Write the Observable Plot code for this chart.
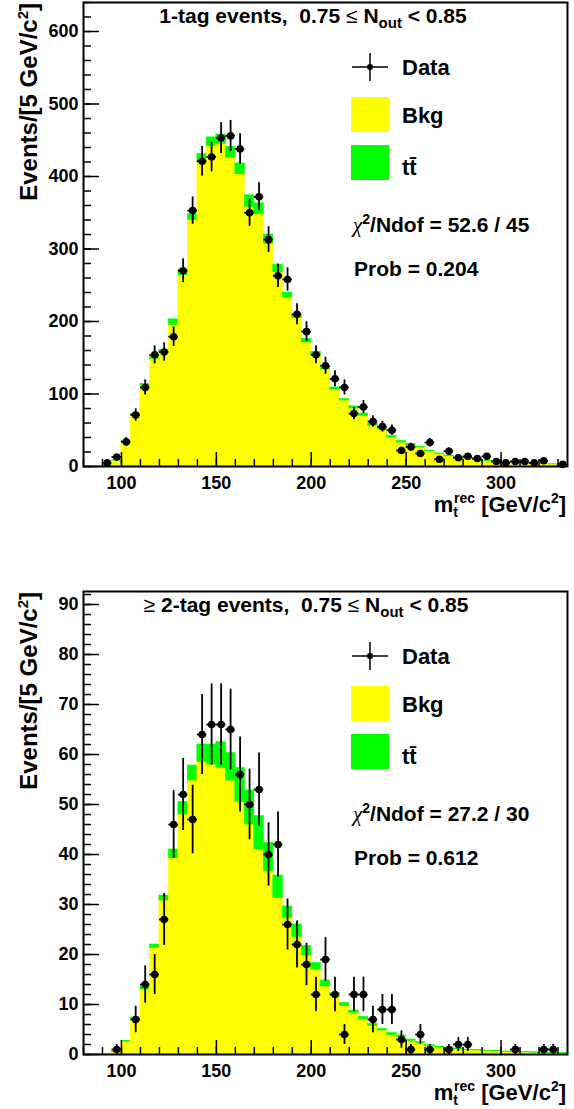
<!DOCTYPE html>
<html><head><meta charset="utf-8">
<script src="https://cdn.jsdelivr.net/npm/d3@7"></script>
<script src="https://cdn.jsdelivr.net/npm/@observablehq/plot@0.6"></script>
<style>
html,body{margin:0;padding:0;background:#fff;}
#wrap{position:relative;width:574px;height:1109px;overflow:hidden;}
#wrap svg{position:absolute;left:0;}
</style></head><body><div id="wrap"></div>
<script>
// ---- bins (lower edges, GeV/c^2) ----
const binLow = [80,85,90,95,100,105,110,115,120,125,130,135,140,145,150,155,160,165,170,175,180,185,190,195,200,205,210,215,220,225,230,235,240,245,250,255,260,265,270,275,280,285,290,295,300,305,310,315,320,325,330];
const binWidth = 5;

// ---- 1-tag panel ----
const tag1Bkg = [0,0.5,2,8,34,71,111,148,157,195,264,340,420,442,445,426,403,358,348,307,268,233,205,171,154,134,106,91,80,70,56,51,40,33,29,26,21,17,14,12,11,8.5,7.5,6.5,5.5,4.7,4.2,3.7,3.2,2.8,2.3];
const tag1Tt  = [0,0,0.3,0.5,1,2,3,3,4,8,8,8,11,12,13,15,15,16,15,13,10,7,4,5,4,4,3,2,3,3,3,2,2,2,2,1,1,1,1,1,1,0.5,0.5,0.5,0.5,0.4,0.4,0.3,0.3,0.3,0.2];
const tag1Data = [0,0,5,13,34,71,109,154,158,179,270,353,421,427,453,456,438,350,372,313,263,258,210,186,154,139,121,109,73,82,62,55,50,22,27,18,33,10,21,12,14,11,14,7,5,7,7,5,8,0,3];

// ---- >=2-tag panel ----
const tag2Bkg = [0.1,0.1,0.2,0.5,2.6,7,13,21.3,30.8,39.3,48,54.8,58.5,58,57.3,54.8,50.5,46,41,36.6,31.3,27.3,23.5,19.8,17,13.6,11.8,9.7,8.3,7,5.7,4.8,3.9,3.5,2.7,2.3,1.7,1.4,1.2,1.0,0.9,0.8,0.7,0.6,0.5,0.45,0.4,0.35,0.3,0.25,0.2];
const tag2Tt  = [0,0,0,0.05,0.1,0.4,0.5,0.7,1,1.7,2.5,3,3.5,4,5.2,5.5,6.8,6.8,6.7,5.7,4.5,2.3,2.5,1.9,1.3,1.2,0.5,0.6,0.5,0.5,0.4,0.3,0.4,0.3,0.3,0.2,0.2,0.2,0.2,0.2,0.1,0.1,0.1,0.1,0.1,0.1,0.1,0.1,0.1,0.1,0.1];
const tag2Data = [0,0,0,1,0,7,14,16,27,46,52,47,64,66,66,65,56,50,53,40,42,26,22,18,12,19,12,4,12,12,7,9,9,3,1,4,1,0,1,2,2,0,0,0,0,1,0,0,1,1,0];

// ---- axes ----
const xDomain = [80, 335];
const xMajor = [100,150,200,250,300];
const xMinor = d3.range(80, 331, 10);
const y1Major = [0,100,200,300,400,500,600];
const y1Minor = d3.range(0, 641, 20);
const y2Major = [0,10,20,30,40,50,60,70,80,90];
const y2Minor = d3.range(0, 93, 2);

const FONT = '"Liberation Sans", Arial, Helvetica, sans-serif';
const YELLOW = "#ffff00", GREEN = "#00ff00";

function panel(cfg) {
  const {bkg, tt, data, yMax, yMajor, yMinor, height, mt, mb, top, titleParts, titleX, chi2, prob} = cfg;
  const hist = [];
  binLow.forEach((lo, i) => {
    hist.push({lo, hi: lo + binWidth, y1: 0, y2: bkg[i], comp: "Bkg"});
    hist.push({lo, hi: lo + binWidth, y1: bkg[i], y2: bkg[i] + tt[i], comp: "tt"});
  });
  const pts = binLow.map((lo, i) => ({x: lo + binWidth / 2, lo, hi: lo + binWidth, n: data[i]})).filter(d => d.n > 0);
  const noText = () => "";
  const svg = Plot.plot({
    width: 574, height, marginLeft: 83, marginRight: 7, marginTop: mt, marginBottom: mb,
    style: {fontFamily: FONT, fontWeight: "bold", fontSize: "18px", background: "white", overflow: "visible"},
    x: {domain: xDomain},
    y: {domain: [0, yMax]},
    color: {domain: ["Bkg", "tt"], range: [YELLOW, GREEN]},
    marks: [
      Plot.rect(hist, {x1: "lo", x2: "hi", y1: "y1", y2: "y2", fill: "comp", stroke: "comp", strokeWidth: 0.6}),
      Plot.axisY({ticks: yMajor, tickSize: 0, tickPadding: 5, label: null, fontSize: 18}),
      Plot.axisY({ticks: yMajor, tickSize: -16, tickFormat: noText, label: null, strokeWidth: 1.5}),
      Plot.axisY({ticks: yMinor, tickSize: -8, tickFormat: noText, label: null, strokeWidth: 1.5}),
      Plot.axisX({ticks: xMajor, tickSize: 0, tickPadding: 10, label: null, fontSize: 18}),
      Plot.axisX({ticks: xMajor, tickSize: -14, tickFormat: noText, label: null, strokeWidth: 1.5}),
      Plot.axisX({ticks: xMinor, tickSize: -7, tickFormat: noText, label: null, strokeWidth: 1.5}),
      Plot.ruleX(pts, {x: "x", y1: d => d.n - Math.sqrt(d.n), y2: d => d.n + Math.sqrt(d.n), stroke: "black", strokeWidth: 1.8}),
      Plot.ruleY(pts, {y: "n", x1: "lo", x2: "hi", stroke: "black", strokeWidth: 1.8}),
      Plot.dot(pts, {x: "x", y: "n", r: 3.8, fill: "black", stroke: "none"}),
      Plot.frame({stroke: "black", strokeWidth: 2})
    ]
  });
  svg.style.top = top + "px";
  const ft = mt;
  const fb = height - mb;
  const s = d3.select(svg);
  const g = s.append("g").attr("font-family", FONT).attr("font-weight", "bold").attr("fill", "black")
    .attr("text-anchor", "start").style("white-space", "pre");

  // title
  const t = g.append("text").attr("x", titleX).attr("y", ft + 21).attr("text-anchor", "middle").attr("font-size", 21);
  titleParts.forEach(p => {
    const ts = t.append("tspan").text(p.t);
    if (p.normal) ts.attr("font-weight", "normal");
    if (p.sub) ts.attr("font-size", 15).attr("dy", 5);
    if (p.after) ts.attr("dy", -5);
  });

  // legend
  const lg = g.append("g");
  lg.append("line").attr("x1", 352).attr("x2", 388).attr("y1", ft + 65).attr("y2", ft + 65).attr("stroke", "black").attr("stroke-width", 1.5);
  lg.append("line").attr("x1", 370).attr("x2", 370).attr("y1", ft + 51).attr("y2", ft + 79).attr("stroke", "black").attr("stroke-width", 1.5);
  lg.append("circle").attr("cx", 370).attr("cy", ft + 65).attr("r", 3);
  lg.append("text").attr("x", 402).attr("y", ft + 73).attr("font-size", 22).text("Data");
  lg.append("rect").attr("x", 351).attr("y", ft + 95).attr("width", 38).attr("height", 35).attr("fill", YELLOW);
  lg.append("text").attr("x", 402).attr("y", ft + 121).attr("font-size", 22).text("Bkg");
  lg.append("rect").attr("x", 351).attr("y", ft + 143).attr("width", 38).attr("height", 35).attr("fill", GREEN);
  lg.append("text").attr("x", 402).attr("y", ft + 173).attr("font-size", 22).text("tt\u0304");

  const c = lg.append("text").attr("x", 353).attr("y", ft + 230).attr("font-size", 21);
  c.append("tspan").attr("font-family", '"Liberation Serif", "DejaVu Serif", serif').attr("font-weight", "normal").attr("font-style", "italic").text("\u03c7");
  c.append("tspan").attr("font-size", 14).attr("dy", -8).text("2");
  c.append("tspan").attr("dy", 8).text("/Ndof = " + chi2);
  lg.append("text").attr("x", 354).attr("y", ft + 274).attr("font-size", 21).text("Prob = " + prob);

  // y title
  const yt = g.append("text").attr("transform", `translate(37,${ft + 1}) rotate(-90)`).attr("text-anchor", "end").attr("font-size", 24);
  yt.append("tspan").text("Events/[5 GeV/c");
  yt.append("tspan").attr("font-size", 15).attr("dy", -9).text("2");
  yt.append("tspan").attr("dy", 9).text("]");

  // x title
  const xt = g.append("text").attr("x", 566).attr("y", fb + 46).attr("text-anchor", "end").attr("font-size", 22);
  xt.append("tspan").text("m");
  xt.append("tspan").attr("font-size", 14).attr("dy", 5).text("t");
  xt.append("tspan").attr("font-size", 14).attr("dx", -4).attr("dy", -14).text("rec");
  xt.append("tspan").attr("dy", 9).text(" [GeV/c");
  xt.append("tspan").attr("font-size", 14).attr("dy", -9).text("2");
  xt.append("tspan").attr("dy", 9).text("]");
  return svg;
}

const wrap = document.getElementById("wrap");
wrap.appendChild(panel({
  bkg: tag1Bkg, tt: tag1Tt, data: tag1Data, yMax: 640, yMajor: y1Major, yMinor: y1Minor,
  height: 555, mt: 2, mb: 89, top: 0, titleX: 313,
  titleParts: [{t: "1-tag events,  0.75 "}, {t: "\u2264", normal: true}, {t: " N"}, {t: "out", sub: true}, {t: " < 0.85", after: true}],
  chi2: "52.6 / 45", prob: "0.204"
}));
wrap.appendChild(panel({
  bkg: tag2Bkg, tt: tag2Tt, data: tag2Data, yMax: 92.6, yMajor: y2Major, yMinor: y2Minor,
  height: 554, mt: 36, mb: 55, top: 555, titleX: 306,
  titleParts: [{t: "\u2265", normal: true}, {t: " 2-tag events,  0.75 "}, {t: "\u2264", normal: true}, {t: " N"}, {t: "out", sub: true}, {t: " < 0.85", after: true}],
  chi2: "27.2 / 30", prob: "0.612"
}));
</script>
</body></html>
